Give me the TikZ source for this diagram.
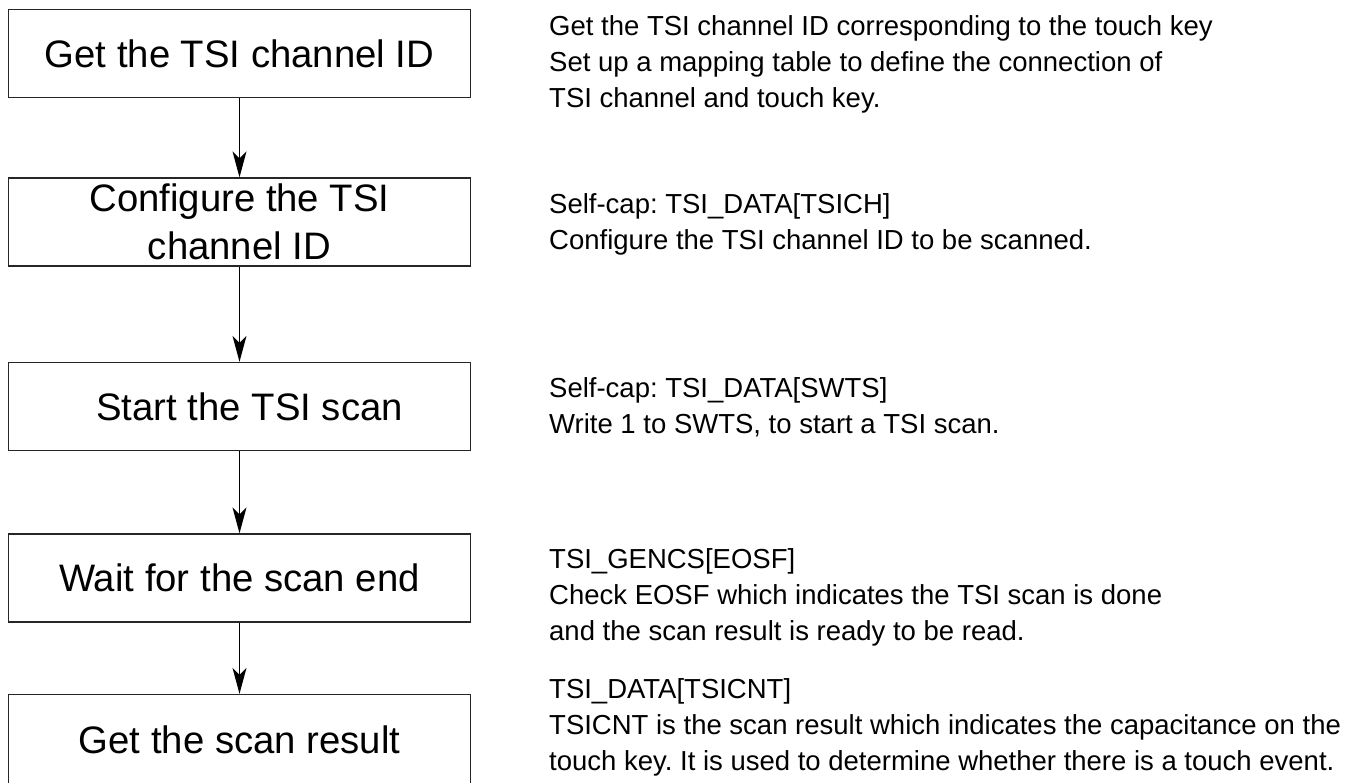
\documentclass[tikz,border=0pt]{standalone}
\usepackage{fontspec}
\setmainfont{Liberation Sans}
\usetikzlibrary{arrows.meta}
\frenchspacing
\tikzset{
  stepbox/.style={draw=black!85, line width=1.3pt, minimum width=462pt, minimum height=88pt,
    inner sep=0pt, font=\fontsize{38.3}{47.5}\selectfont, align=center},
  arr/.style={draw=black, line width=1.3pt, -{Stealth[length=26pt,width=14pt,inset=7pt]}},
  desc/.style={anchor=base west, inner sep=0pt, font=\fontsize{27.5}{36}\selectfont}
}
\begin{document}
\begin{tikzpicture}[x=1pt,y=-1pt]
\useasboundingbox (0,0) rectangle (1364,782);
% boxes
\node[stepbox] (b1) at (239.5,53.5) {Get the TSI channel ID};
\node[stepbox] (b2) at (239.5,222) {Configure the TSI\\channel ID};
\node[stepbox] (b3) at (239.5,406.5) {\hspace*{20pt}Start the TSI scan};
\node[stepbox] (b4) at (239.5,578) {Wait for the scan end};
\node[stepbox, minimum height=90pt] (b5) at (239.5,739.5) {Get the scan result};
% arrows
\draw[arr] (b1) -- (b2);
\draw[arr] (b2) -- (b3);
\draw[arr] (b3) -- (b4);
\draw[arr] (b4) -- (b5);
% descriptions
\node[desc] (d1a) at (549,35) {Get the TSI channel ID corresponding to the touch key};
\node[desc] (d1b) at (549,71) {Set up a mapping table to define the connection of};
\node[desc] (d1c) at (549,107) {TSI channel and touch key.};
\node[desc] (d2a) at (549,213) {Self-cap: TSI\_DATA[TSICH]};
\node[desc] (d2b) at (549,249) {Configure the TSI channel ID to be scanned.};
\node[desc] (d3a) at (549,397) {Self-cap: TSI\_DATA[SWTS]};
\node[desc] (d3b) at (549,433) {Write 1 to SWTS, to start a TSI scan.};
\node[desc] (d4a) at (549,568) {TSI\_GENCS[EOSF]};
\node[desc] (d4b) at (549,604) {Check EOSF which indicates the TSI scan is done};
\node[desc] (d4c) at (549,640) {and the scan result is ready to be read.};
\node[desc] (d5a) at (549,698) {TSI\_DATA[TSICNT]};
\node[desc] (d5b) at (549,734) {TSICNT is the scan result which indicates the capacitance on the};
\node[desc] (d5c) at (549,770) {touch key. It is used to determine whether there is a touch event.};
\end{tikzpicture}
\end{document}
